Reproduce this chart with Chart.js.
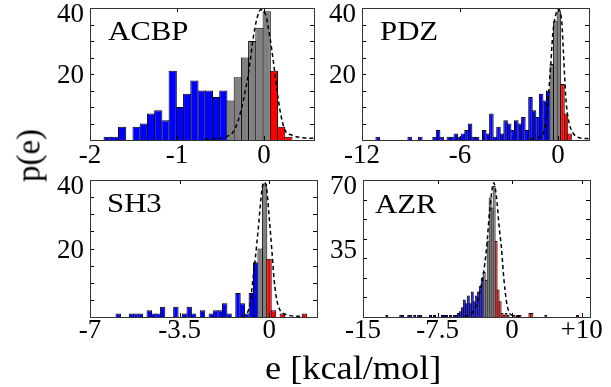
<!DOCTYPE html>
<html>
<head>
<meta charset="utf-8">
<script src="https://cdn.jsdelivr.net/npm/chart.js@4.4.1/dist/chart.umd.min.js"></script>
<style>
  html, body { margin: 0; padding: 0; background: #fff; }
  #fig { position: relative; width: 611px; height: 387px; overflow: hidden; font-family: "Liberation Serif", "Times New Roman", serif; }
  #fig canvas { position: absolute; left: 0; top: 0; }
  .lbl { position: absolute; font-size: 28px; line-height: 28px; color: #000; white-space: nowrap; transform: scaleX(1.1); transform-origin: 0 0; }
  .axt { font-size: 33px; line-height: 33px; }
  .ylab { width: 70px; height: 33px; text-align: center; transform: rotate(-90deg); transform-origin: 50% 50%; }
</style>
</head>
<body>
<div id="fig">
  <canvas id="acbp" width="611" height="387"></canvas>
  <canvas id="pdz" width="611" height="387"></canvas>
  <canvas id="sh3" width="611" height="387"></canvas>
  <canvas id="azr" width="611" height="387"></canvas>
  <div class="lbl" style="left:108px;top:17px">ACBP</div>
  <div class="lbl" style="left:380px;top:17px">PDZ</div>
  <div class="lbl" style="left:107px;top:189px">SH3</div>
  <div class="lbl" style="left:375px;top:190px">AZR</div>
  <div class="lbl axt ylab" style="left:-6px;top:139px">p(e)</div>
  <div class="lbl axt" style="left:265px;top:352px">e [kcal/mol]</div>
</div>
<script>
// histogram counts
const acbpCounts = [1, 1, 4, 0, 4, 5, 8, 9, 6, 21, 10, 14, 18, 15, 15, 13, 15, 12, 19, 25, 30, 34, 39, 21, 4, 1];
const acbpBinStart = -1.797, acbpBinWidth = 0.0831;
const acbpGrayFrom = 17, acbpRedFrom = 23;
const acbpFitX = [-0.68, -0.51, -0.43, -0.353, -0.295, -0.238, -0.18, -0.123, -0.084, -0.038, 0.011, 0.069, 0.107, 0.146, 0.184, 0.241, 0.318, 0.414, 0.575];
const acbpFitY = [0.2, 0.5, 1, 2.5, 6, 12, 20, 31, 36.5, 39.5, 38.5, 31, 24, 16, 9, 3, 1.5, 0.8, 0.5];

const pdzCounts = [1, 0, 0, 0, 0, 0, 0, 0, 0, 1, 0, 0, 1, 0, 0, 0, 1, 3, 1, 0,
  1, 1, 2, 1, 2, 3, 5, 1, 1, 0, 3, 2, 8, 1, 4, 2, 6, 5, 3, 6,
  5, 7, 3, 13, 9, 7, 14, 12, 15, 23, 36, 39, 17, 8, 2];
const pdzBinStart = -11.04, pdzBinWidth = 0.2176;
const pdzGrayFrom = 49, pdzRedFrom = 52;
const pdzFitX = [-1.71, -1.1, -0.79, -0.61, -0.44, -0.32, -0.18, 0.02, 0.23, 0.33, 0.43, 0.53, 0.69, 0.9, 1.14, 1.55, 1.9];
const pdzFitY = [0.3, 1, 4, 12, 23, 32, 37, 39.6, 36, 27, 17, 10, 5, 2.3, 1, 0.5, 0.4];

const sh3Counts = [1, 0, 0, 1, 1, 1, 0, 2, 1, 1, 3, 0, 0, 3, 0, 1, 3, 1, 0, 2,
  0, 1, 2, 2, 4, 1, 0, 7, 4, 1, 7, 16, 20, 39, 17, 2, 0, 1, 0, 0, 0, 0, 1];
const sh3BinStart = -5.897, sh3BinWidth = 0.1733;
const sh3GrayFrom = 32, sh3RedFrom = 34;
const sh3FitX = [-1.067, -0.872, -0.743, -0.637, -0.547, -0.418, -0.285, -0.195, -0.09, 0.012, 0.106, 0.196, 0.301, 0.431, 0.626, 0.822, 1.2];
const sh3FitY = [0.2, 1, 4, 10.7, 16.6, 26.3, 37, 39.4, 37, 28.2, 19.5, 10.7, 4.9, 1.9, 0.8, 0.4, 0.2];

const azrCounts = [1, 0, 0, 0, 0, 0, 0, 1, 1, 0, 0, 1, 1, 0, 1, 0, 1, 1, 0, 0,
  0, 0, 1, 0, 1, 0, 0, 0, 1, 1, 1, 0, 1, 0, 1, 1, 2, 3, 5, 9,
  7, 11, 7, 13, 8, 11, 13, 16, 20, 23, 19, 39, 61, 56, 67, 39, 14, 8, 2, 1,
  2, 1, 0, 0, 1, 0, 1, 1, 0, 0, 0, 0, 2, 2, 0, 0, 0, 0, 0, 0,
  1, 0, 0, 0, 0, 0, 0, 0, 0, 0, 0, 0, 0, 0, 0, 0, 1];
const azrBinStart = -12.6, azrBinWidth = 0.2;
const azrGrayFrom = 49, azrRedFrom = 55;
const azrFitX = [-4.76, -4.25, -3.58, -3.25, -2.92, -2.57, -2.24, -1.84, -1.57, -1.3, -1.06, -0.83, -0.56, -0.3, 0.05, 0.78];
const azrFitY = [0.5, 1.2, 5.9, 12.6, 21, 34.6, 54.8, 68.6, 61.5, 46.4, 35, 20, 8, 2.5, 0.8, 0.3];

// axis ticks
const acbpXTicks = [-2, -1, 0], acbpXLabels = ['-2', '-1', '0'];
const pdzXTicks = [-12, -6, 0], pdzXLabels = ['-12', '-6', '0'];
const sh3XTicks = [-7, -3.5, 0], sh3XLabels = ['-7', '-3.5', '0'];
const azrXTicks = [-15, -7.5, 0, 7], azrXLabels = ['-15', '-7.5', '0', '+10'];
const yTicks40 = [20, 40], yTicks70 = [35, 70];

const BLUE = '#0000ff', GRAY = '#808080', RED = '#ff0000';
const FONT = { family: '"Liberation Serif", "Times New Roman", serif', size: 27 };

// box around the plot with short inward ticks, MATLAB style
const frame = {
  id: 'frame',
  afterDatasetsDraw(chart, args, opts) {
    const { ctx, chartArea: a, scales } = chart;
    ctx.save();
    ctx.strokeStyle = '#000';
    ctx.lineWidth = 1;
    ctx.beginPath();
    opts.xMinor.forEach(v => {
      const px = Math.round(scales.x.getPixelForValue(v)) + 0.5;
      ctx.moveTo(px, a.bottom); ctx.lineTo(px, a.bottom - 4);
      ctx.moveTo(px, a.top); ctx.lineTo(px, a.top + 4);
    });
    opts.yMinor.forEach(v => {
      const py = Math.round(scales.y.getPixelForValue(v)) + 0.5;
      ctx.moveTo(a.left, py); ctx.lineTo(a.left + 4, py);
      ctx.moveTo(a.right, py); ctx.lineTo(a.right - 4, py);
    });
    ctx.stroke();
    ctx.strokeStyle = '#333';
    ctx.strokeRect(Math.round(a.left) + 0.5, Math.round(a.top) + 0.5,
      Math.round(a.right - a.left), Math.round(a.bottom - a.top));
    ctx.restore();
  }
};

function panel(id, p) {
  const pitchPx = p.binWidth * (p.box.r - p.box.l) / (p.xMax - p.xMin);
  const bars = p.counts.map((c, i) => ({ x: p.binStart + i * p.binWidth, y: c }));
  const colors = p.counts.map((c, i) => i >= p.redFrom ? RED : i >= p.grayFrom ? GRAY : BLUE);
  const fit = p.fitX.map((x, i) => ({ x: x, y: p.fitY[i] }));
  const yTop = p.yTicks[p.yTicks.length - 1];

  return new Chart(document.getElementById(id), {
    type: 'bar',
    data: {
      datasets: [{
        type: 'line',
        data: fit,
        borderColor: '#000',
        borderWidth: 1.5,
        borderDash: [4, 3],
        pointRadius: 0,
        cubicInterpolationMode: 'monotone',
        order: 0
      }, {
        data: bars,
        backgroundColor: colors,
        borderColor: '#000',
        borderWidth: 1,
        categoryPercentage: 1,
        barPercentage: (pitchPx + 1) / pitchPx,
        order: 1
      }]
    },
    options: {
      responsive: false,
      animation: false,
      events: [],
      devicePixelRatio: 1,
      layout: {
        padding: { left: p.box.l - 60, top: p.box.t, right: 611 - p.box.r, bottom: 387 - p.box.b - 40 }
      },
      plugins: {
        legend: { display: false },
        tooltip: { enabled: false },
        frame: { xMinor: p.xTicks, yMinor: p.yMinor }
      },
      scales: {
        x: {
          type: 'linear',
          offset: false,
          min: p.xMin,
          max: p.xMax,
          afterBuildTicks: s => { s.ticks = p.xTicks.map(v => ({ value: v })); },
          afterFit: s => { s.height = 40; s.paddingLeft = 0; s.paddingRight = 0; },
          ticks: {
            callback: (v, i) => p.xLabels[i],
            font: FONT,
            color: '#000',
            padding: p.xPad,
            maxRotation: 0,
            autoSkip: false
          },
          grid: { display: false, drawTicks: false, offset: false },
          border: { display: false }
        },
        y: {
          min: 0,
          max: yTop,
          afterBuildTicks: s => { s.ticks = p.yTicks.map(v => ({ value: v })); },
          afterFit: s => { s.width = 60; s.paddingTop = 0; s.paddingBottom = 0; },
          ticks: {
            // top label sits a little lower than its tick, as in the original
            callback: v => v === yTop ? ['', String(v)] : String(v),
            font: Object.assign({ lineHeight: 0.4 }, FONT),
            color: '#000',
            padding: 6,
            labelOffset: 2
          },
          grid: { display: false, drawTicks: false },
          border: { display: false }
        }
      }
    },
    plugins: [frame]
  });
}

panel('acbp', {
  box: { l: 90, r: 314, t: 8, b: 140 }, xMin: -2, xMax: 0.575, xPad: 0,
  counts: acbpCounts, binStart: acbpBinStart, binWidth: acbpBinWidth,
  grayFrom: acbpGrayFrom, redFrom: acbpRedFrom, fitX: acbpFitX, fitY: acbpFitY,
  xTicks: acbpXTicks, xLabels: acbpXLabels, yTicks: yTicks40, yMinor: [5, 10, 15, 20, 25, 30, 35]
});
panel('pdz', {
  box: { l: 362, r: 589, t: 8, b: 140 }, xMin: -12, xMax: 1.9, xPad: 0,
  counts: pdzCounts, binStart: pdzBinStart, binWidth: pdzBinWidth,
  grayFrom: pdzGrayFrom, redFrom: pdzRedFrom, fitX: pdzFitX, fitY: pdzFitY,
  xTicks: pdzXTicks, xLabels: pdzXLabels, yTicks: yTicks40, yMinor: [5, 10, 15, 20, 25, 30, 35]
});
panel('sh3', {
  box: { l: 90, r: 317, t: 180, b: 317 }, xMin: -7, xMax: 1.87, xPad: -2,
  counts: sh3Counts, binStart: sh3BinStart, binWidth: sh3BinWidth,
  grayFrom: sh3GrayFrom, redFrom: sh3RedFrom, fitX: sh3FitX, fitY: sh3FitY,
  xTicks: sh3XTicks, xLabels: sh3XLabels, yTicks: yTicks40, yMinor: [5, 10, 15, 20, 25, 30, 35]
});
panel('azr', {
  box: { l: 363, r: 590, t: 180, b: 317 }, xMin: -15, xMax: 7.85, xPad: -2,
  counts: azrCounts, binStart: azrBinStart, binWidth: azrBinWidth,
  grayFrom: azrGrayFrom, redFrom: azrRedFrom, fitX: azrFitX, fitY: azrFitY,
  xTicks: azrXTicks, xLabels: azrXLabels, yTicks: yTicks70, yMinor: [10, 20, 30, 40, 50, 60]
});
</script>
</body>
</html>
